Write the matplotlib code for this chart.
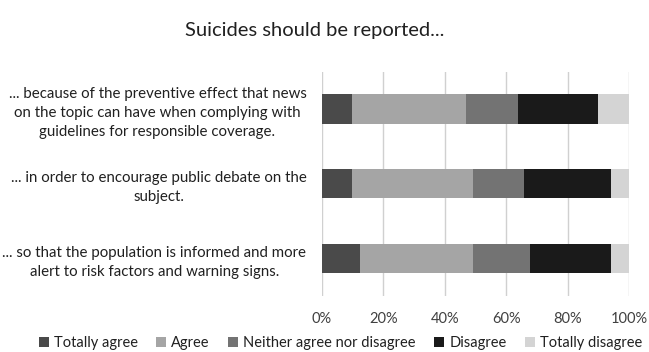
import matplotlib
matplotlib.use("Agg")
import matplotlib.pyplot as plt
from matplotlib.patches import Patch
import numpy as np

plt.rcParams['font.family'] = ['Lato', 'DejaVu Sans']

categories = [
    "... because of the preventive effect that news\non the topic can have when complying with\nguidelines for responsible coverage.",
    "... in order to encourage public debate on the\nsubject.",
    "... so that the population is informed and more\nalert to risk factors and warning signs.",
]
series_names = ["Totally agree", "Agree", "Neither agree nor disagree", "Disagree", "Totally disagree"]
totally_agree = [10.0, 10.0, 12.4]
agree = [37.0, 39.2, 36.8]
neither = [17.0, 16.5, 18.7]
disagree = [26.0, 28.3, 26.1]
totally_disagree = [10.0, 6.0, 6.0]
colors = ["#4a4a4a", "#a5a5a5", "#737373", "#1a1a1a", "#d4d4d4"]
xtick_values = [0, 20, 40, 60, 80, 100]

values = [totally_agree, agree, neither, disagree, totally_disagree]

fig = plt.figure(figsize=(6.49, 3.52), dpi=100)
ax = fig.add_axes([0.4957, 0.1605, 0.4735, 0.6357])

y = np.arange(len(categories))
left = np.zeros(len(categories))
for name, vals, c in zip(series_names, values, colors):
    ax.barh(y, vals, left=left, height=0.39, color=c, label=name, zorder=3)
    left += np.array(vals)

ax.set_ylim(len(categories) - 0.5, -0.5)
ax.set_xlim(0, 100)
ax.set_xticks(xtick_values)
ax.set_xticklabels([f"{v}%" for v in xtick_values], fontsize=10.5, color="#404040")
ax.set_yticks(y)
ax.set_yticklabels(categories, fontsize=10.8, color="#202020",
                   multialignment="center", linespacing=1.45)
ax.tick_params(axis="y", length=0, pad=11)
ax.tick_params(axis="x", length=0, pad=12)
ax.grid(axis="x", color="#d0d0d0", linewidth=1, zorder=0)
for s in ax.spines.values():
    s.set_visible(False)

fig.text(0.485, 0.912, "Suicides should be reported...", ha="center", va="center",
         fontsize=14.5, color="#202020")

handles = [Patch(facecolor=c, edgecolor="none") for c in colors]
fig.legend(handles, series_names, loc="center", bbox_to_anchor=(0.5247, 0.025),
           ncol=5, frameon=False, fontsize=10.5, handlelength=0.7, handleheight=0.7,
           handletextpad=0.35, columnspacing=1.25, labelcolor="#202020")

fig.savefig("out.png", dpi=100)
